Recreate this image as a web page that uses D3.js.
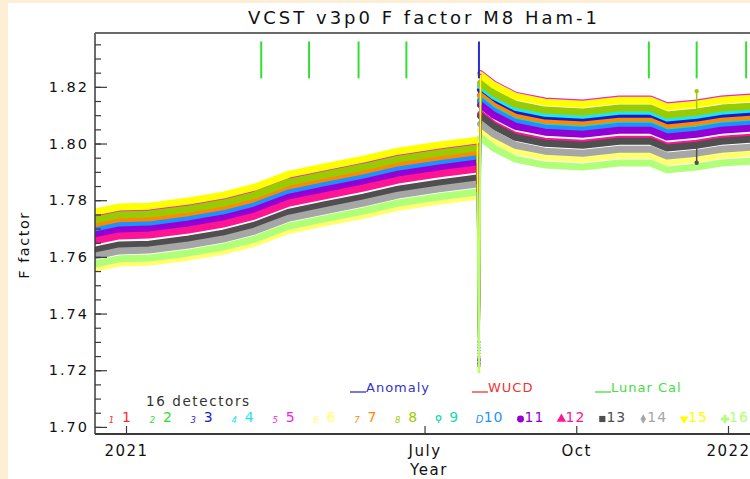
<!DOCTYPE html>
<html><head><meta charset="utf-8">
<script src="https://cdn.jsdelivr.net/npm/d3@7/dist/d3.min.js"></script>
<style>
html,body{margin:0;padding:0;background:#fcefd6;}
svg{display:block;}
text{font-family:"DejaVu Sans",sans-serif;}
</style></head>
<body>
<svg id="chart" width="750" height="479"></svg>
<script>
// ---------- data ----------
const dates = [
  "2020-12-13","2020-12-28","2021-01-15","2021-02-08","2021-03-01","2021-03-20",
  "2021-04-10","2021-05-01","2021-05-25","2021-06-15","2021-07-10","2021-08-02",
  "2021-08-03",
  "2021-08-04","2021-08-12","2021-08-25","2021-09-12","2021-10-05","2021-10-27",
  "2021-11-15","2021-11-25","2021-12-13","2021-12-28","2022-01-15"
];
const anomalyIndex = 12;

const detectorNames = ["1","2","3","4","5","6","7","8","9","10","11","12","13","14","15","16"];
const detectorColors = ["#ff2a2a","#33dd33","#1a1acc","#22e6e6","#ee22dd","#ffff70","#ff8800","#99cc00",
                        "#22d8b0","#1e90ff","#9400d3","#ff1493","#4f4f4f","#a6a6a6","#ffff00","#b0ff78"];

const d01 = [1.7716,1.7734,1.7737,1.7755,1.7777,1.7804,1.7850,1.7875,1.7903,1.7931,1.7953,1.7970, 1.7300, 1.8171,1.8135,1.8096,1.8075,1.8068,1.8082,1.8082,1.8058,1.8068,1.8082,1.8089];
const d02 = [1.7687,1.7705,1.7708,1.7726,1.7747,1.7775,1.7821,1.7846,1.7874,1.7902,1.7924,1.7941, 1.7220, 1.8147,1.8111,1.8072,1.8051,1.8044,1.8058,1.8058,1.8034,1.8044,1.8058,1.8065];
const d03 = [1.7698,1.7716,1.7719,1.7737,1.7758,1.7786,1.7832,1.7857,1.7885,1.7913,1.7935,1.7952, 1.7240, 1.8189,1.8153,1.8114,1.8093,1.8086,1.8100,1.8100,1.8076,1.8086,1.8100,1.8107];
const d04 = [1.7695,1.7713,1.7716,1.7734,1.7755,1.7783,1.7829,1.7854,1.7882,1.7910,1.7932,1.7949, 1.7230, 1.8203,1.8167,1.8128,1.8107,1.8100,1.8114,1.8114,1.8090,1.8100,1.8114,1.8121];
const d05 = [1.7744,1.7762,1.7765,1.7783,1.7804,1.7832,1.7878,1.7903,1.7931,1.7959,1.7981,1.7998, 1.7280, 1.8246,1.8210,1.8171,1.8150,1.8143,1.8157,1.8157,1.8133,1.8143,1.8157,1.8164];
const d06 = [1.7560,1.7578,1.7581,1.7599,1.7620,1.7648,1.7694,1.7719,1.7747,1.7775,1.7797,1.7814, 1.7210, 1.8048,1.8012,1.7973,1.7952,1.7945,1.7959,1.7959,1.7935,1.7945,1.7959,1.7966];
const d07 = [1.7709,1.7727,1.7730,1.7748,1.7769,1.7797,1.7843,1.7868,1.7896,1.7924,1.7946,1.7963, 1.7260, 1.8168,1.8132,1.8093,1.8072,1.8065,1.8079,1.8079,1.8055,1.8065,1.8079,1.8086];
const d08 = [1.7730,1.7748,1.7751,1.7769,1.7790,1.7818,1.7864,1.7889,1.7917,1.7945,1.7967,1.7984, 1.7250, 1.8214,1.8178,1.8139,1.8118,1.8111,1.8125,1.8125,1.8101,1.8111,1.8125,1.8132];
const d09 = [1.7691,1.7709,1.7712,1.7730,1.7751,1.7779,1.7825,1.7850,1.7878,1.7906,1.7928,1.7945, 1.7290, 1.8154,1.8118,1.8079,1.8058,1.8051,1.8065,1.8065,1.8041,1.8051,1.8065,1.8072];
const d10 = [1.7692,1.7710,1.7713,1.7731,1.7752,1.7780,1.7826,1.7851,1.7879,1.7907,1.7929,1.7946, 1.7270, 1.8150,1.8114,1.8075,1.8054,1.8047,1.8061,1.8061,1.8037,1.8047,1.8061,1.8068];
const d11 = [1.7677,1.7695,1.7698,1.7716,1.7737,1.7765,1.7811,1.7836,1.7864,1.7892,1.7914,1.7931, 1.7235, 1.8136,1.8100,1.8061,1.8040,1.8033,1.8047,1.8047,1.8023,1.8033,1.8047,1.8054];
const d12 = [1.7656,1.7674,1.7677,1.7695,1.7716,1.7744,1.7790,1.7815,1.7843,1.7871,1.7893,1.7910, 1.7215, 1.8104,1.8068,1.8029,1.8008,1.8001,1.8015,1.8015,1.7991,1.8001,1.8015,1.8022];
const d13 = [1.7624,1.7642,1.7645,1.7663,1.7684,1.7712,1.7758,1.7783,1.7811,1.7839,1.7861,1.7878, 1.7225, 1.8097,1.8061,1.8022,1.8001,1.7994,1.8008,1.8008,1.7984,1.7994,1.8008,1.8015];
const d14 = [1.7603,1.7621,1.7624,1.7642,1.7663,1.7691,1.7737,1.7762,1.7790,1.7818,1.7840,1.7857, 1.7245, 1.8069,1.8033,1.7994,1.7973,1.7966,1.7980,1.7980,1.7956,1.7966,1.7980,1.7987];
const d15 = [1.7758,1.7776,1.7779,1.7797,1.7818,1.7846,1.7892,1.7917,1.7945,1.7973,1.7995,1.8012, 1.7205, 1.8242,1.8206,1.8167,1.8146,1.8139,1.8153,1.8153,1.8129,1.8139,1.8153,1.8160];
const d16 = [1.7575,1.7593,1.7596,1.7614,1.7635,1.7663,1.7709,1.7734,1.7762,1.7790,1.7812,1.7829, 1.7195, 1.8020,1.7984,1.7945,1.7924,1.7917,1.7931,1.7931,1.7907,1.7917,1.7931,1.7938];
const detectorSeries = [d01,d02,d03,d04,d05,d06,d07,d08,d09,d10,d11,d12,d13,d14,d15,d16];

// one-day excursions at the December lunar calibration
const lunarSpikeDate = "2021-12-13";
const lunarSpikeDetectors = [8, 13];
const lunarSpikeValues = [1.8185, 1.7932];

// event markers
const anomalyDates = ["2021-08-03"];
const lunarDates = ["2021-03-24","2021-04-22","2021-05-22","2021-06-20","2021-11-14","2021-12-13","2022-01-12"];
const eventTop = 1.836, eventBottom = 1.823;

// axes
const yTickValues = [1.70,1.72,1.74,1.76,1.78,1.80,1.82];
const yTickLabels = ["1.70","1.72","1.74","1.76","1.78","1.80","1.82"];
const xTickDates = ["2021-01-01","2021-07-01","2021-10-01","2022-01-01"];
const xTickLabels = ["2021","July","Oct","2022"];

// ---------- layout ----------
const svg = d3.select("#chart");
const L = 95, R = 751, T = 33, B = 434;
const parse = d3.utcParse("%Y-%m-%d");
const x = d3.scaleUtc().domain([parse("2021-01-01"), parse("2022-01-01")]).range([126, 728]);
const y = d3.scaleLinear().domain([1.6975, 1.839]).range([B, T]);

svg.append("rect").attr("x",8).attr("y",3).attr("width",742).attr("height",476).attr("fill","#ffffff");

svg.append("defs").append("clipPath").attr("id","plotclip")
  .append("rect").attr("x",L).attr("y",T).attr("width",R-L).attr("height",B-T);

const plot = svg.append("g").attr("clip-path","url(#plotclip)");

const pts = detectorSeries.map(s => s.map((v,i)=>({date:parse(dates[i]), v:v, i:i})));
const line = d3.line().x(d=>x(d.date)).y(d=>y(d.v));

// bands
pts.forEach((p,k)=>{
  const pre = p.filter(d=>d.i<anomalyIndex);
  const post = p.filter(d=>d.i>anomalyIndex);
  [pre,post].forEach(seg=>{
    plot.append("path").attr("d",line(seg)).attr("fill","none")
      .attr("stroke",detectorColors[k]).attr("stroke-width",7)
      .attr("stroke-linejoin","round").attr("stroke-linecap","round");
  });
});
// anomaly excursions
pts.forEach((p,k)=>{
  const seg = p.filter(d=>d.i>=anomalyIndex-1 && d.i<=anomalyIndex+1);
  plot.append("path").attr("d",line(seg)).attr("fill","none")
    .attr("stroke",detectorColors[k]).attr("stroke-width",1.6);
  const low = p[anomalyIndex];
  plot.append("circle").attr("cx",x(low.date)).attr("cy",y(low.v)).attr("r",1.6).attr("fill",detectorColors[k]);
});
// lunar spikes
lunarSpikeDetectors.forEach((det,j)=>{
  const idx = dates.indexOf(lunarSpikeDate);
  const base = detectorSeries[det-1][idx];
  const xd = x(parse(lunarSpikeDate));
  plot.append("line").attr("x1",xd).attr("x2",xd).attr("y1",y(base)).attr("y2",y(lunarSpikeValues[j]))
    .attr("stroke",detectorColors[det-1]).attr("stroke-width",1.5);
  plot.append("circle").attr("cx",xd).attr("cy",y(lunarSpikeValues[j])).attr("r",2.2).attr("fill",detectorColors[det-1]);
});

// event markers
anomalyDates.forEach(d=>{
  plot.append("line").attr("x1",x(parse(d))).attr("x2",x(parse(d)))
    .attr("y1",y(eventTop)).attr("y2",y(eventBottom)).attr("stroke","#2a2ad0").attr("stroke-width",2);
});
lunarDates.forEach(d=>{
  plot.append("line").attr("x1",x(parse(d))).attr("x2",x(parse(d)))
    .attr("y1",y(eventTop)).attr("y2",y(eventBottom)).attr("stroke","#33dd33").attr("stroke-width",2);
});

// ---------- axes ----------
const axisColor = "#3a3a3a";
const yMinor = d3.range(1.70, 1.8391, 0.005).map(v=>+v.toFixed(3));
const gyMinor = svg.append("g").attr("transform",`translate(${L},0)`)
  .call(d3.axisLeft(y).tickValues(yMinor).tickSize(-6).tickSizeOuter(0).tickFormat(""));
gyMinor.select(".domain").remove();
gyMinor.selectAll("line").attr("stroke",axisColor).attr("stroke-width",1.2);

const gy = svg.append("g").attr("transform",`translate(${L},0)`)
  .call(d3.axisLeft(y).tickValues(yTickValues).tickSize(-12).tickSizeOuter(0)
    .tickPadding(6).tickFormat((d,i)=>yTickLabels[i]));
gy.select(".domain").remove();
gy.selectAll("line").attr("stroke",axisColor).attr("stroke-width",1.2);
gy.selectAll("text").attr("font-size",14.5).attr("letter-spacing","2px").attr("fill","#111")
  .style("font-family","'DejaVu Sans',sans-serif");

const gx = svg.append("g").attr("transform",`translate(0,${B})`)
  .call(d3.axisBottom(x).tickValues(xTickDates.map(parse)).tickSize(-8).tickSizeOuter(0)
    .tickPadding(11).tickFormat((d,i)=>xTickLabels[i]));
gx.select(".domain").remove();
gx.selectAll("line").attr("stroke",axisColor).attr("stroke-width",1.2);
gx.selectAll("text").attr("font-size",15).attr("letter-spacing","1.5px").attr("fill","#111")
  .style("font-family","'DejaVu Sans',sans-serif");

// frame lines
svg.append("line").attr("x1",L).attr("x2",R).attr("y1",B).attr("y2",B).attr("stroke",axisColor).attr("stroke-width",2);
svg.append("line").attr("x1",L).attr("x2",L).attr("y1",T).attr("y2",B).attr("stroke",axisColor).attr("stroke-width",1.5);
svg.append("line").attr("x1",L).attr("x2",R).attr("y1",T).attr("y2",T).attr("stroke","#6a6a6a").attr("stroke-width",2);

// titles
svg.append("text").attr("x",424).attr("y",24).attr("text-anchor","middle")
  .attr("font-size",18).attr("letter-spacing","3px").attr("fill","#111").text("VCST v3p0 F factor M8 Ham-1");
svg.append("text").attr("transform","translate(29,245) rotate(-90)").attr("text-anchor","middle")
  .attr("font-size",14.5).attr("letter-spacing","1.5px").attr("fill","#111").text("F factor");
svg.append("text").attr("x",429).attr("y",475).attr("text-anchor","middle")
  .attr("font-size",15).attr("letter-spacing","1.5px").attr("fill","#111").text("Year");

// event legend
const evLegend = [
  {label:"Anomaly", color:"#3333cc", x:350},
  {label:"WUCD", color:"#ee3333", x:472},
  {label:"Lunar Cal", color:"#44dd44", x:595}
];
evLegend.forEach(e=>{
  svg.append("line").attr("x1",e.x).attr("x2",e.x+16).attr("y1",392).attr("y2",392)
    .attr("stroke",e.color).attr("stroke-width",1.3);
  svg.append("text").attr("x",e.x+16).attr("y",392).attr("font-size",13).attr("letter-spacing","1px")
    .attr("fill",e.color).text(e.label);
});

svg.append("text").attr("x",146).attr("y",406).attr("font-size",13.5).attr("letter-spacing","1.6px")
  .attr("fill","#333").text("16 detectors");

// detector legend
const symTypes = [null,null,null,null,null,null,null,null,"ring","dee",d3.symbolCircle,d3.symbolTriangle,d3.symbolSquare,d3.symbolDiamond,"tridown",d3.symbolCross];
detectorNames.forEach((n,k)=>{
  const sx = 111.5 + k*40.9;
  const c = detectorColors[k];
  const g = svg.append("g");
  if (k < 8) {
    g.append("text").attr("x",sx).attr("y",423).attr("text-anchor","middle").attr("font-size",8.5)
      .attr("font-style","italic").attr("fill",c).text(n);
  } else if (symTypes[k]==="ring") {
    g.append("circle").attr("cx",sx).attr("cy",418).attr("r",2.3).attr("fill","none").attr("stroke",c).attr("stroke-width",1.3);
    g.append("line").attr("x1",sx).attr("x2",sx).attr("y1",420).attr("y2",423).attr("stroke",c).attr("stroke-width",1.2);
  } else if (symTypes[k]==="dee") {
    g.append("text").attr("x",sx).attr("y",422.5).attr("text-anchor","middle").attr("font-size",10)
      .attr("font-style","italic").attr("fill",c).text("D");
  } else if (symTypes[k]==="tridown") {
    g.append("path").attr("d",d3.symbol(d3.symbolTriangle,34)()).attr("fill",c)
      .attr("transform",`translate(${sx},419) rotate(180)`);
  } else {
    g.append("path").attr("d",d3.symbol(symTypes[k],k===13?26:38)()).attr("fill",c)
      .attr("transform",`translate(${sx},419)`);
  }
  g.append("text").attr("x",sx + (k<9?15.5:14)).attr("y",422).attr("text-anchor","middle")
    .attr("font-size",14).attr("letter-spacing","1px").attr("fill",c).text(n);
});
</script>
</body></html>
